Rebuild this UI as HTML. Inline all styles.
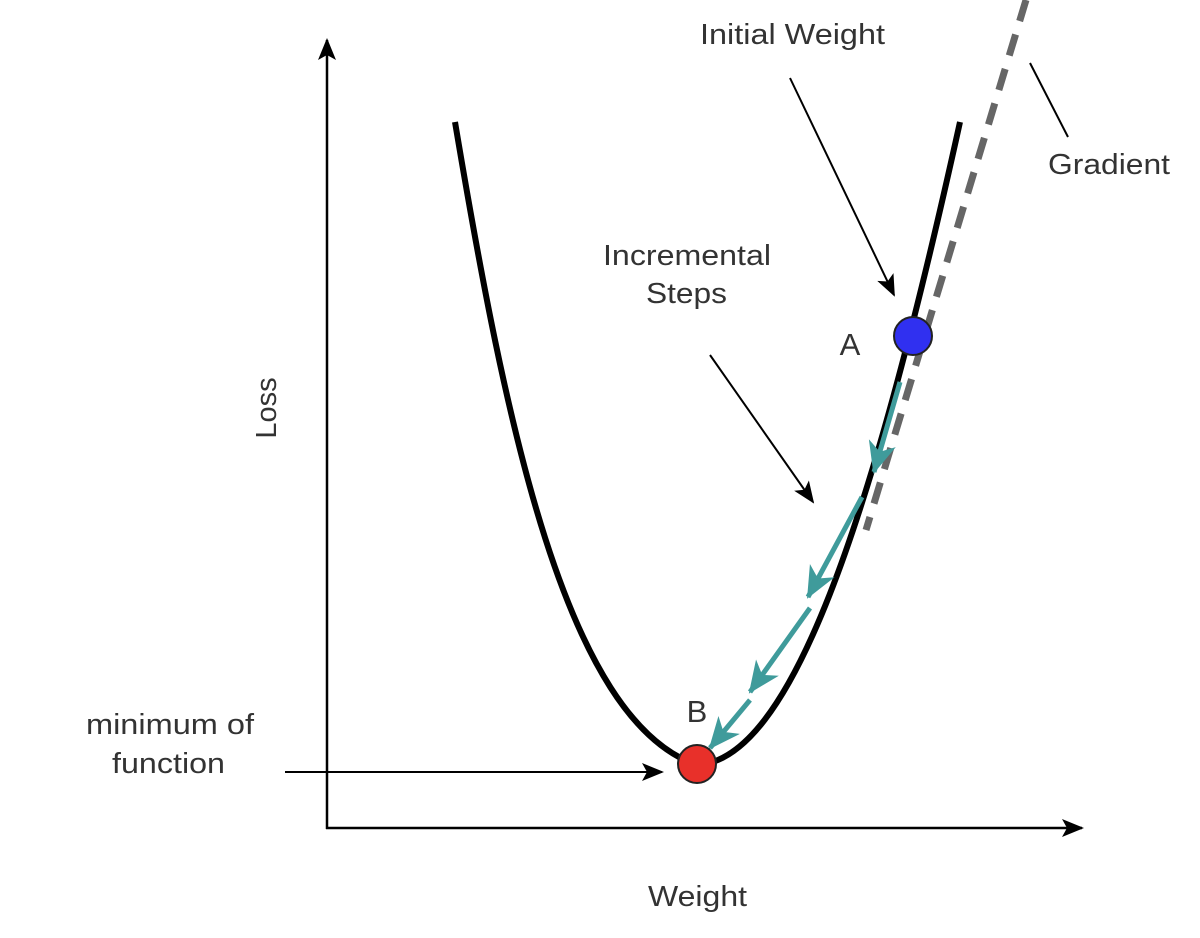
<!DOCTYPE html>
<html><head><meta charset="utf-8"><style>
html,body{margin:0;padding:0;background:#fff;}
svg{display:block;}
text{font-family:"Liberation Sans",sans-serif;fill:#333;}
</style></head><body>
<svg width="1200" height="938" viewBox="0 0 1200 938">
<defs>
<marker id="ahb" markerWidth="22" markerHeight="22" refX="20" refY="11" orient="auto" markerUnits="userSpaceOnUse"><path d="M0,2 L22,11 L0,20 L5,11 Z" fill="#000"/></marker>
<marker id="at" markerWidth="34" markerHeight="34" refX="30" refY="17" orient="auto" markerUnits="userSpaceOnUse"><path d="M0,3 L32,17 L0,31 L9,17 Z" fill="#3f9b9b"/></marker>
</defs>
<g>
<line x1="327" y1="829" x2="327" y2="40" stroke="#000" stroke-width="2.5" marker-end="url(#ahb)"/>
</g>
<g>
<line x1="326" y1="828" x2="1082" y2="828" stroke="#000" stroke-width="2.5" marker-end="url(#ahb)"/>
</g>
<path d="M1026,0 L866,530" stroke="#666" stroke-width="7" stroke-dasharray="22,14" fill="none"/>
<path d="M455,122 C505,420 565,720 697,765 C790,760 870,530 960,122" stroke="#000" stroke-width="6" fill="none"/>
<g stroke="#3f9b9b" stroke-width="5" fill="none">
<line x1="900" y1="382" x2="874" y2="472" marker-end="url(#at)"/>
<line x1="862" y1="497" x2="808" y2="597" marker-end="url(#at)"/>
<line x1="810" y1="608" x2="750" y2="692" marker-end="url(#at)"/>
<line x1="750" y1="700" x2="710" y2="748" marker-end="url(#at)"/>
</g>
<circle cx="913" cy="336" r="19" fill="#3030f0" stroke="#222" stroke-width="2"/>
<circle cx="697" cy="764" r="19" fill="#e8302a" stroke="#222" stroke-width="2"/>
<line x1="790" y1="78" x2="894" y2="295" stroke="#000" stroke-width="2" marker-end="url(#ahb)"/>
<line x1="710" y1="355" x2="813" y2="502" stroke="#000" stroke-width="2" marker-end="url(#ahb)"/>
<line x1="285" y1="772" x2="662" y2="772" stroke="#000" stroke-width="2" marker-end="url(#ahb)"/>
<line x1="1030" y1="63" x2="1068" y2="137" stroke="#000" stroke-width="2"/>
<text x="700" y="44" font-size="29" textLength="185" lengthAdjust="spacingAndGlyphs">Initial Weight</text>
<text x="1048" y="174" font-size="29" textLength="122" lengthAdjust="spacingAndGlyphs">Gradient</text>
<text x="603" y="265" font-size="29" textLength="168" lengthAdjust="spacingAndGlyphs">Incremental</text>
<text x="646" y="303" font-size="29" textLength="81" lengthAdjust="spacingAndGlyphs">Steps</text>
<text x="850" y="355" font-size="31" text-anchor="middle">A</text>
<text x="697" y="722" font-size="31" text-anchor="middle">B</text>
<text x="0" y="0" font-size="29" text-anchor="middle" transform="translate(276,408) rotate(-90)">Loss</text>
<text x="648" y="906" font-size="29" textLength="99" lengthAdjust="spacingAndGlyphs">Weight</text>
<text x="86" y="734" font-size="29" textLength="168" lengthAdjust="spacingAndGlyphs">minimum of</text>
<text x="112" y="773" font-size="29" textLength="113" lengthAdjust="spacingAndGlyphs">function</text>
</svg>
</body></html>
